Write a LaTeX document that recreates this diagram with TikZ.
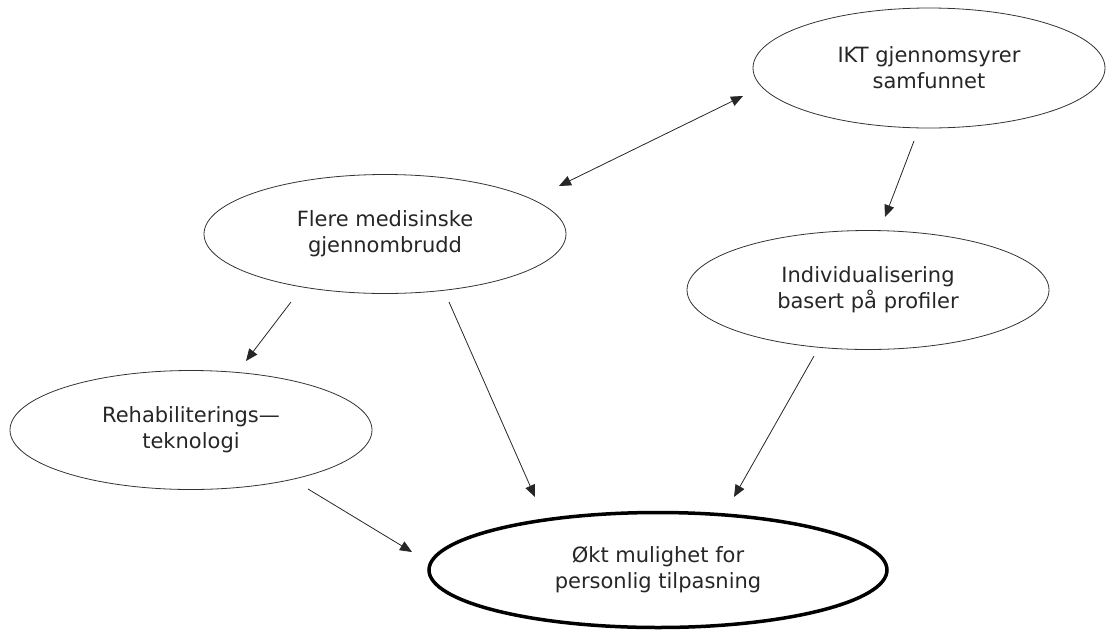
\documentclass[tikz,border=0pt]{standalone}
\usepackage{fontspec}
\setmainfont{DejaVu Sans}
\usetikzlibrary{shapes.geometric,arrows.meta}

\begin{document}
\begin{tikzpicture}[x=1pt,y=-1pt,
    bubble/.style={draw=black!80,ellipse,inner sep=0pt,align=center,line width=0.8pt,
      minimum width=362pt,minimum height=119pt,
      font=\fontsize{21}{26}\selectfont,text=black!85},
    arr/.style={-{Triangle[length=12pt,width=10pt]},line width=0.8pt,black!85},
    dblarr/.style={{Triangle[length=12pt,width=10pt]}-{Triangle[length=12pt,width=10pt]},line width=0.8pt,black!85}]
  \useasboundingbox (0,0) rectangle (1109,630);
  \node[bubble,minimum width=352pt,minimum height=120pt] (ikt) at (929,68) {IKT gjennomsyrer\\samfunnet};
  \node[bubble] (flere) at (385,234) {Flere medisinske\\gjennombrudd};
  \node[bubble] (indiv) at (868,290) {Individualisering\\basert på profiler};
  \node[bubble] (rehab) at (191,430) {Rehabiliterings—\\teknologi};
  \node[bubble,draw=black,line width=3.5pt,minimum width=458pt,minimum height=115pt] (okt) at (658,570) {Økt mulighet for\\personlig tilpasning};

  \draw[dblarr] ([shift={(174,-48)}]flere.center) -- ([shift={(-186,28)}]ikt.center);
  \draw[arr] ([shift={(-15,73)}]ikt.center) -- ([shift={(17,-73)}]indiv.center);
  \draw[arr] ([shift={(-94,68)}]flere.center) -- ([shift={(55,-69)}]rehab.center);
  \draw[arr] ([shift={(64,68)}]flere.center) -- ([shift={(-123,-73)}]okt.center);
  \draw[arr] ([shift={(-54,66)}]indiv.center) -- ([shift={(76,-73)}]okt.center);
  \draw[arr] ([shift={(117,59)}]rehab.center) -- ([shift={(-246,-18)}]okt.center);
\end{tikzpicture}
\end{document}
